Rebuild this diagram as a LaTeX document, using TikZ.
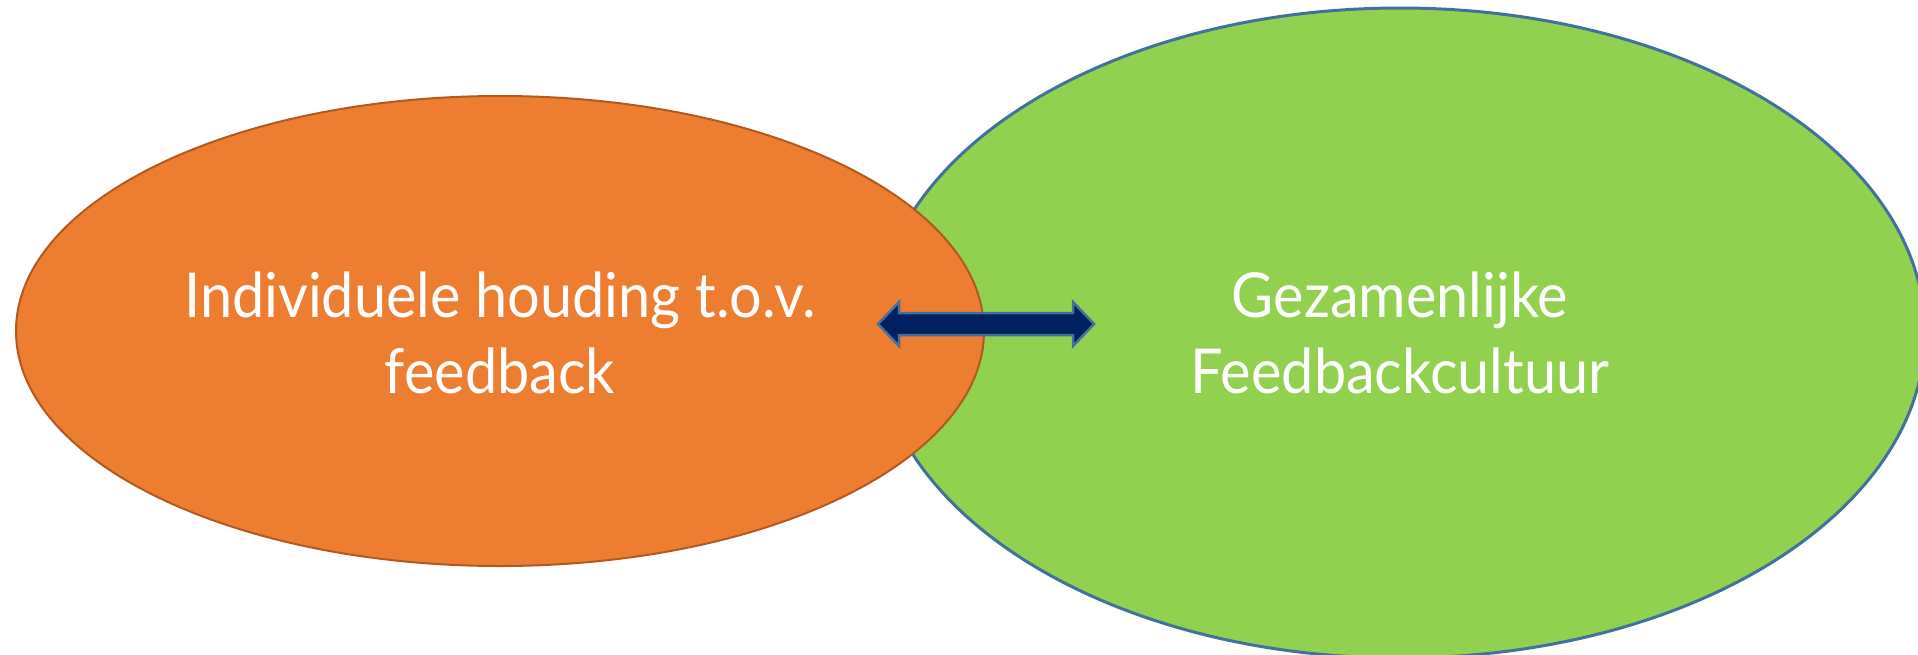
\documentclass[tikz,border=0pt]{standalone}
\usepackage{fontspec}
\setmainfont{Lato}[FakeStretch=0.93]
\usetikzlibrary{shapes.geometric}
\definecolor{orfill}{HTML}{ED7D31}
\definecolor{ordraw}{HTML}{AE5A21}
\definecolor{grfill}{HTML}{92D050}
\definecolor{bldraw}{HTML}{41719C}
\definecolor{navy}{HTML}{002060}
\begin{document}
\begin{tikzpicture}[x=1pt,y=-1pt,
  blob/.style={ellipse, inner sep=0pt, outer sep=0pt},
  lbl/.style={text=white, anchor=base, inner sep=0pt, font=\fontsize{62}{76}\selectfont}]
\useasboundingbox (0,0) rectangle (1918,654);
\begin{scope}
\clip (0,0) rectangle (1918,654);
\node[blob, fill=grfill, draw=bldraw, line width=3pt, minimum width=1050pt, minimum height=650pt] (green) at (1400,333) {};
\end{scope}
\node[blob, fill=orfill, draw=ordraw, line width=2pt, minimum width=968pt, minimum height=470pt] (orange) at (500,331) {};
\coordinate (ac) at (986,324);
\draw[fill=navy, draw=bldraw, line width=2.5pt, line join=miter]
  (ac) ++(-108,0) -- ++(21,-22) -- ++(0,11) -- ++(174,0) -- ++(0,-11) -- ++(21,22)
  -- ++(-21,22) -- ++(0,-11) -- ++(-174,0) -- ++(0,11) -- cycle;
\node[lbl] (o1) at (500,317) {Individuele houding t.o.v.};
\node[lbl] (o2) at (500,393) {feedback};
\node[lbl] (g1) at (1400,317) {Gezamenlijke};
\node[lbl] (g2) at (1400,393) {Feedbackcultuur};
\end{tikzpicture}
\end{document}
